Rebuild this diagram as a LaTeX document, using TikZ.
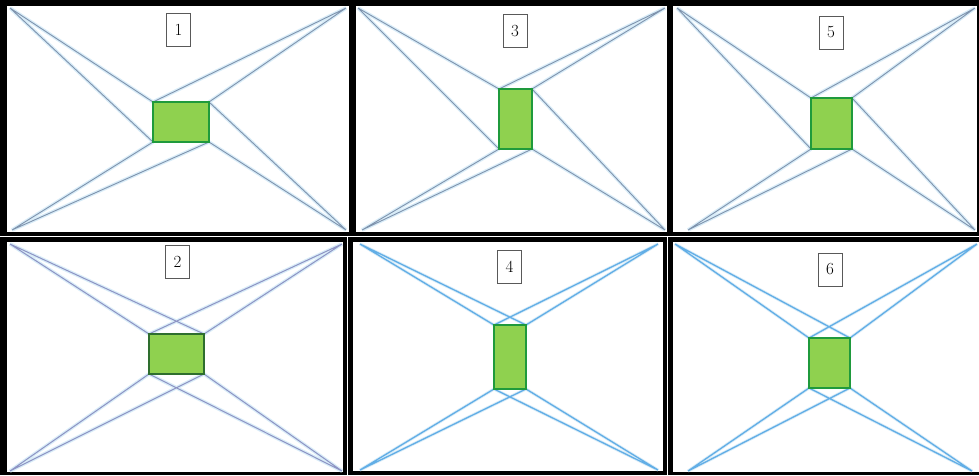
\documentclass[tikz,border=0pt]{standalone}
\usetikzlibrary{backgrounds}
\definecolor{slate}{HTML}{7F93AD}
\definecolor{glow}{HTML}{D8ECF8}
\definecolor{lav}{HTML}{8E93C4}
\definecolor{skyb}{HTML}{62AEE6}
\definecolor{gfill}{HTML}{8FD14F}
\definecolor{gline}{HTML}{1F9A3C}
\definecolor{gdark}{HTML}{2E6E2E}
\tikzset{
  frameout/.style={fill=black},
  framein/.style={fill=white},
  gbox/.style={draw=gline, fill=gfill, line width=1.6pt, inner sep=0pt, outer sep=0pt},
  gboxdark/.style={gbox, draw=gdark, line width=2pt},
  numbox/.style={draw=black!65, fill=white, line width=1pt, inner sep=0pt,
     minimum width=24pt, minimum height=33pt, font=\fontsize{17}{19}\selectfont},
  glowline/.style={glow, line width=3.5pt},
  pinline/.style={slate, line width=0.9pt},
  lavline/.style={lav, line width=1pt},
  skyline/.style={skyb, line width=1.3pt},
  skyglow/.style={glow, line width=3pt},
}
\begin{document}
\begin{tikzpicture}[x=1pt,y=-1pt]
\useasboundingbox (0,0) rectangle (979,475);
\fill[white] (0,0) rectangle (979,475);
% frames
\fill[frameout] (0,0) rectangle (352,236);
\fill[frameout] (352,0) rectangle (670,236);
\fill[frameout] (670,0) rectangle (979,236);
\fill[frameout] (0,237) rectangle (347,475);
\fill[frameout] (348,237) rectangle (667,475);
\fill[frameout] (668,237) rectangle (979,475);
\fill[framein] (7,6) rectangle (349,232);
\fill[framein] (356,6) rectangle (667,232);
\fill[framein] (673,6) rectangle (977,232);
\fill[framein] (7,242) rectangle (343,472);
\fill[framein] (353,242) rectangle (663,471);
\fill[framein] (673,242) rectangle (979,472);

% ---------- panel 1 ----------
\node[gbox, minimum width=56pt, minimum height=40pt] (g1) at (181,122) {};
\coordinate (a1) at (10,8); \coordinate (b1) at (346,8);
\coordinate (c1) at (12,230); \coordinate (d1) at (346,230);
\foreach \s in {glowline,pinline}{
  \draw[\s] (a1) -- (g1.north west) (a1) -- (g1.south west)
            (b1) -- (g1.north west) (b1) -- (g1.north east)
            (d1) -- (g1.north east) (d1) -- (g1.south east)
            (c1) -- (g1.south west) (c1) -- (g1.south east);}
\node[gbox, minimum width=56pt, minimum height=40pt] at (g1) {};
\node[numbox] (n1) at (178.5,29.5) {1};

% ---------- panel 3 ----------
\node[gbox, minimum width=33pt, minimum height=60pt] (g3) at (515.5,119) {};
\coordinate (a3) at (358,8); \coordinate (b3) at (665,8);
\coordinate (c3) at (362,230); \coordinate (d3) at (665,230);
\foreach \s in {glowline,pinline}{
  \draw[\s] (a3) -- (g3.north west) (a3) -- (g3.south west)
            (b3) -- (g3.north west) (b3) -- (g3.north east)
            (d3) -- (g3.north east) (d3) -- (g3.south east)
            (c3) -- (g3.south west) (c3) -- (g3.south east);}
\node[gbox, minimum width=33pt, minimum height=60pt] at (g3) {};
\node[numbox] (n3) at (515,31) {3};

% ---------- panel 5 ----------
\node[gbox, minimum width=41pt, minimum height=51pt] (g5) at (831.5,123.5) {};
\coordinate (a5) at (677,8); \coordinate (b5) at (975,8);
\coordinate (c5) at (688,230); \coordinate (d5) at (975,230);
\foreach \s in {glowline,pinline}{
  \draw[\s] (a5) -- (g5.north west) (a5) -- (g5.south west)
            (b5) -- (g5.north west) (b5) -- (g5.north east)
            (d5) -- (g5.north east) (d5) -- (g5.south east)
            (c5) -- (g5.south west) (c5) -- (g5.south east);}
\node[gbox, minimum width=41pt, minimum height=51pt] at (g5) {};
\node[numbox] (n5) at (831,32.5) {5};

% ---------- panel 2 ----------
\node[gboxdark, minimum width=55pt, minimum height=40pt] (g2) at (176.5,354) {};
\coordinate (a2) at (10,244); \coordinate (b2) at (342,244);
\coordinate (c2) at (10,471); \coordinate (d2) at (342,471);
\foreach \s in {glowline,lavline}{
  \draw[\s] (a2) -- (g2.north west) (a2) -- (g2.north east)
            (b2) -- (g2.north west) (b2) -- (g2.north east)
            (c2) -- (g2.south west) (c2) -- (g2.south east)
            (d2) -- (g2.south west) (d2) -- (g2.south east);}
\node[gboxdark, minimum width=55pt, minimum height=40pt] at (g2) {};
\node[numbox] (n2) at (177.5,262) {2};

% ---------- panel 4 ----------
\node[gbox, minimum width=32pt, minimum height=64pt] (g4) at (510,357) {};
\coordinate (a4) at (360,244); \coordinate (b4) at (658,244);
\coordinate (c4) at (360,470); \coordinate (d4) at (658,470);
\foreach \s in {skyglow,skyline}{
  \draw[\s] (a4) -- (g4.north west) (a4) -- (g4.north east)
            (b4) -- (g4.north west) (b4) -- (g4.north east)
            (c4) -- (g4.south west) (c4) -- (g4.south east)
            (d4) -- (g4.south west) (d4) -- (g4.south east);}
\node[gbox, minimum width=32pt, minimum height=64pt] at (g4) {};
\node[numbox] (n4) at (509.5,266.5) {4};

% ---------- panel 6 ----------
\node[gbox, minimum width=41pt, minimum height=50pt] (g6) at (829.5,363) {};
\coordinate (a6) at (675,244); \coordinate (b6) at (977,244);
\coordinate (c6) at (688,471); \coordinate (d6) at (972,471);
\foreach \s in {skyglow,skyline}{
  \draw[\s] (a6) -- (g6.north west) (a6) -- (g6.north east)
            (b6) -- (g6.north west) (b6) -- (g6.north east)
            (c6) -- (g6.south west) (c6) -- (g6.south east)
            (d6) -- (g6.south west) (d6) -- (g6.south east);}
\node[gbox, minimum width=41pt, minimum height=50pt] at (g6) {};
\node[numbox] (n6) at (830,269.5) {6};
\end{tikzpicture}
\end{document}
